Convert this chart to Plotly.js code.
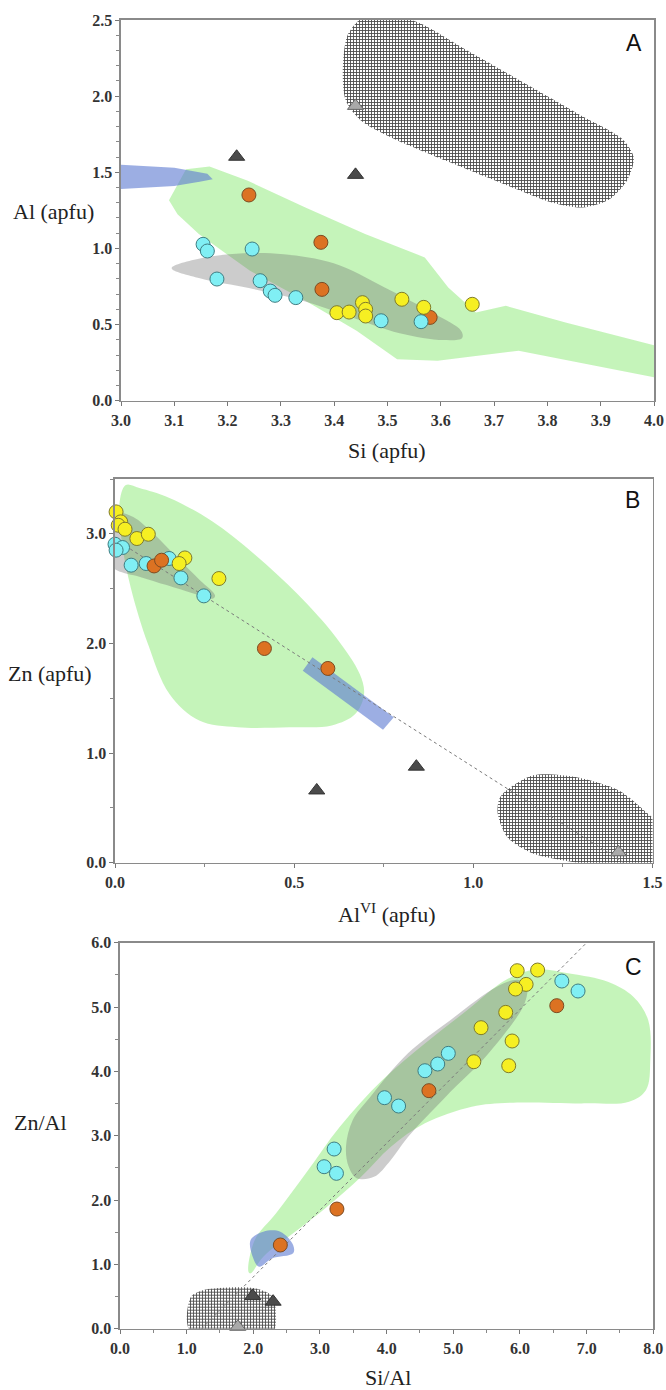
<!DOCTYPE html>
<html>
<head>
<meta charset="utf-8">
<script src="https://cdn.plot.ly/plotly-3.0.1.min.js"></script>
<style>html,body{margin:0;padding:0;background:#fff;}#chart{width:666px;height:1390px;}</style>
</head>
<body>
<div id="chart"></div>
<script>
// ---------------- Panel A : Al (apfu) vs Si (apfu) ----------------
const A_cyan_si   = [3.154, 3.162, 3.246, 3.180, 3.261, 3.280, 3.289, 3.328, 3.488, 3.563];
const A_cyan_al   = [1.027, 0.983, 0.996, 0.799, 0.788, 0.720, 0.692, 0.677, 0.525, 0.519];
const A_yellow_si = [3.405, 3.428, 3.453, 3.459, 3.459, 3.527, 3.568, 3.659];
const A_yellow_al = [0.578, 0.582, 0.644, 0.600, 0.556, 0.666, 0.613, 0.633];
const A_orange_si = [3.240, 3.375, 3.377, 3.580];
const A_orange_al = [1.351, 1.040, 0.731, 0.547];
const A_tri_si    = [3.217, 3.440];
const A_tri_al    = [1.602, 1.483];
const A_tri2_si   = [3.440];
const A_tri2_al   = [1.936];

const A_green_x = [3.090, 3.122, 3.166, 3.238, 3.346, 3.458, 3.570, 3.614, 3.666, 3.722, 3.834, 4.05, 4.05, 3.746, 3.594, 3.518, 3.442, 3.346, 3.242, 3.146, 3.106];
const A_green_y = [1.317, 1.520, 1.538, 1.444, 1.269, 1.094, 0.941, 0.744, 0.580, 0.623, 0.514, 0.320, 0.120, 0.328, 0.262, 0.273, 0.459, 0.656, 0.853, 1.094, 1.225];
const A_gray_x = [3.095, 3.150, 3.230, 3.305, 3.399, 3.492, 3.586, 3.638, 3.640, 3.605, 3.523, 3.430, 3.336, 3.242, 3.148, 3.095];
const A_gray_y = [0.870, 0.935, 0.968, 0.962, 0.902, 0.749, 0.574, 0.460, 0.412, 0.398, 0.443, 0.552, 0.661, 0.738, 0.804, 0.870];
const A_blue_x = [2.95, 3.10, 3.162, 3.172, 3.15, 3.10, 2.95];
const A_blue_y = [1.560, 1.530, 1.490, 1.455, 1.440, 1.410, 1.380];
const A_hatch_x = [3.425, 3.455, 3.500, 3.560, 3.640, 3.760, 3.870, 3.940, 3.962, 3.950, 3.915, 3.866, 3.810, 3.720, 3.610, 3.506, 3.450, 3.422, 3.416, 3.425];
const A_hatch_y = [2.400, 2.520, 2.540, 2.480, 2.320, 2.080, 1.860, 1.720, 1.597, 1.450, 1.320, 1.269, 1.300, 1.420, 1.575, 1.730, 1.840, 1.969, 2.150, 2.400];

// ---------------- Panel B : Zn (apfu) vs Al VI (apfu) ----------------
const B_yellow_al = [0.003, 0.016, 0.009, 0.028, 0.061, 0.093, 0.195, 0.179, 0.290];
const B_yellow_zn = [3.200, 3.109, 3.078, 3.042, 2.957, 2.996, 2.780, 2.729, 2.592];
const B_cyan_al   = [0.000, 0.021, 0.003, 0.045, 0.087, 0.151, 0.184, 0.248];
const B_cyan_zn   = [2.905, 2.875, 2.851, 2.714, 2.729, 2.775, 2.598, 2.434];
const B_orange_al = [0.109, 0.130, 0.417, 0.594];
const B_orange_zn = [2.707, 2.759, 1.954, 1.772];
const B_tri_al    = [0.563, 0.841];
const B_tri_zn    = [0.659, 0.876];
const B_tri2_al   = [1.405];
const B_tri2_zn   = [0.095];
const B_line_al   = [0.0, 1.42];
const B_line_zn   = [2.95, 0.0];

const B_green_x = [0.030, 0.068, 0.152, 0.271, 0.390, 0.510, 0.617, 0.683, 0.695, 0.671, 0.605, 0.486, 0.342, 0.235, 0.152, 0.092, 0.044, 0.020, 0.012, 0.030];
const B_green_y = [3.445, 3.418, 3.327, 3.115, 2.812, 2.448, 2.055, 1.721, 1.539, 1.358, 1.252, 1.236, 1.236, 1.297, 1.539, 1.994, 2.509, 2.903, 3.267, 3.445];
const B_gray_x = [0.014, 0.051, 0.107, 0.172, 0.237, 0.279, 0.274, 0.219, 0.144, 0.070, 0.005, -0.028, -0.023, -0.005, 0.014];
const B_gray_y = [3.185, 3.154, 3.003, 2.789, 2.577, 2.440, 2.410, 2.456, 2.532, 2.607, 2.668, 2.759, 2.881, 3.094, 3.185];
const B_blue_x = [0.551, 0.524, 0.748, 0.778];
const B_blue_y = [1.873, 1.752, 1.212, 1.327];
const B_hatch_x = [1.082, 1.166, 1.285, 1.405, 1.476, 1.52, 1.52, 1.38, 1.273, 1.166, 1.094, 1.068, 1.071, 1.082];
const B_hatch_y = [0.630, 0.797, 0.782, 0.661, 0.479, 0.327, -0.05, -0.05, 0.009, 0.085, 0.236, 0.448, 0.570, 0.630];

// ---------------- Panel C : Zn/Al vs Si/Al ----------------
const C_yellow_sial = [5.958, 6.265, 6.092, 5.933, 5.786, 5.416, 5.882, 5.308, 5.831];
const C_yellow_znal = [5.565, 5.575, 5.352, 5.280, 4.917, 4.679, 4.472, 4.150, 4.088];
const C_cyan_sial   = [6.628, 6.871, 4.925, 4.766, 4.574, 3.968, 4.179, 3.212, 3.062, 3.247];
const C_cyan_znal   = [5.404, 5.249, 4.280, 4.114, 4.010, 3.591, 3.461, 2.793, 2.518, 2.415];
const C_orange_sial = [6.552, 4.634, 3.254, 2.405];
const C_orange_znal = [5.021, 3.700, 1.860, 1.301];
const C_tri_sial    = [1.990, 2.297];
const C_tri_znal    = [0.509, 0.420];
const C_tri2_sial   = [1.767];
const C_tri2_znal   = [0.030];
const C_line_sial   = [1.225, 7.0];
const C_line_znal   = [0.0, 6.0];

const C_green_x = [1.927, 2.022, 2.341, 2.788, 3.298, 3.936, 4.574, 5.212, 5.786, 6.233, 6.744, 7.318, 7.700, 7.923, 7.955, 7.891, 7.636, 7.000, 5.850, 5.276, 4.574, 4.064, 3.617, 3.107, 2.597, 2.150, 1.959, 1.927];
const C_green_y = [0.886, 1.378, 1.793, 2.415, 3.140, 3.865, 4.435, 4.953, 5.420, 5.585, 5.523, 5.394, 5.161, 4.798, 4.176, 3.710, 3.528, 3.503, 3.513, 3.451, 3.192, 2.829, 2.363, 1.896, 1.482, 1.119, 0.860, 0.886];
const C_gray_x = [3.430, 3.550, 3.810, 4.060, 4.320, 4.890, 5.530, 6.070, 6.100, 5.980, 5.660, 4.960, 4.320, 3.745, 3.490, 3.390, 3.430];
const C_gray_y = [2.520, 2.340, 2.360, 2.620, 2.980, 3.610, 4.280, 5.060, 5.330, 5.420, 5.320, 4.800, 4.280, 3.590, 3.240, 2.830, 2.520];
const C_blue_x = [1.959, 2.150, 2.405, 2.597, 2.597, 2.278, 2.086, 1.990, 1.959];
const C_blue_y = [1.378, 1.508, 1.508, 1.301, 1.171, 1.093, 0.964, 1.119, 1.378];
const C_hatch_x = [1.002, 1.065, 1.257, 2.022, 2.290, 2.341, 2.300, 2.022, 1.065, 1.002];
const C_hatch_y = [0.135, 0.497, 0.601, 0.627, 0.497, 0.135, -0.05, -0.05, -0.05, 0.135];

// ---------------- styles ----------------
const COL = {
  cyan:   {fill: '#80eff4', line: '#3f7d82'},
  yellow: {fill: '#f6ef22', line: '#7f7b2c'},
  orange: {fill: '#dc7222', line: '#7c4b22'},
  tri:    {fill: '#4b4b4b', line: '#333333'},
  tri2:   {fill: '#a9a9a9', line: '#666666'},
  green:  'rgba(150,235,130,0.55)',
  gray:   'rgba(110,110,110,0.35)',
  blue:   'rgba(95,125,210,0.62)'
};

function region(x, y, color, xa, ya, smooth) {
  return {x: x, y: y, xaxis: xa, yaxis: ya, type: 'scatter', mode: 'lines', fill: 'toself',
          fillcolor: color, line: {width: 0, shape: smooth ? 'spline' : 'linear', smoothing: 1},
          hoverinfo: 'skip', showlegend: false};
}
function hatch(x, y, xa, ya) {
  return {x: x, y: y, xaxis: xa, yaxis: ya, type: 'scatter', mode: 'lines', fill: 'toself',
          fillcolor: 'rgba(255,255,255,0)', line: {width: 0, shape: 'spline', smoothing: 0.8},
          hoverinfo: 'skip', showlegend: false,
          fillpattern: {shape: '+', size: 3, solidity: 0.5, fgcolor: '#4a4a4a', bgcolor: 'rgba(255,255,255,0.85)', fillmode: 'replace'}};
}
function pts(x, y, c, sym, size, xa, ya) {
  return {x: x, y: y, xaxis: xa, yaxis: ya, type: 'scatter', mode: 'markers', cliponaxis: false,
          marker: {symbol: sym, size: size, color: c.fill, line: {color: c.line, width: 1}},
          hoverinfo: 'x+y', showlegend: false};
}
function dline(x, y, xa, ya) {
  return {x: x, y: y, xaxis: xa, yaxis: ya, type: 'scatter', mode: 'lines',
          line: {color: '#7a7a7a', width: 1, dash: 'dot'}, hoverinfo: 'skip', showlegend: false};
}

const traces = [
  region(A_green_x, A_green_y, COL.green, 'x', 'y', false),
  region(A_gray_x, A_gray_y, COL.gray, 'x', 'y', true),
  region(A_blue_x, A_blue_y, COL.blue, 'x', 'y', false),
  hatch(A_hatch_x, A_hatch_y, 'x', 'y'),
  pts(A_tri_si, A_tri_al, COL.tri, 'triangle-up', 14, 'x', 'y'),
  pts(A_tri2_si, A_tri2_al, COL.tri2, 'triangle-up', 14, 'x', 'y'),
  pts(A_orange_si, A_orange_al, COL.orange, 'circle', 14, 'x', 'y'),
  pts(A_cyan_si, A_cyan_al, COL.cyan, 'circle', 14, 'x', 'y'),
  pts(A_yellow_si, A_yellow_al, COL.yellow, 'circle', 14, 'x', 'y'),

  region(B_green_x, B_green_y, COL.green, 'x2', 'y2', true),
  region(B_gray_x, B_gray_y, COL.gray, 'x2', 'y2', true),
  region(B_blue_x, B_blue_y, COL.blue, 'x2', 'y2', false),
  hatch(B_hatch_x, B_hatch_y, 'x2', 'y2'),
  dline(B_line_al, B_line_zn, 'x2', 'y2'),
  pts(B_tri_al, B_tri_zn, COL.tri, 'triangle-up', 14, 'x2', 'y2'),
  pts(B_tri2_al, B_tri2_zn, COL.tri2, 'triangle-up', 14, 'x2', 'y2'),
  pts(B_cyan_al, B_cyan_zn, COL.cyan, 'circle', 14, 'x2', 'y2'),
  pts(B_yellow_al, B_yellow_zn, COL.yellow, 'circle', 14, 'x2', 'y2'),
  pts(B_orange_al, B_orange_zn, COL.orange, 'circle', 14, 'x2', 'y2'),

  region(C_green_x, C_green_y, COL.green, 'x3', 'y3', true),
  region(C_gray_x, C_gray_y, COL.gray, 'x3', 'y3', true),
  region(C_blue_x, C_blue_y, COL.blue, 'x3', 'y3', true),
  hatch(C_hatch_x, C_hatch_y, 'x3', 'y3'),
  dline(C_line_sial, C_line_znal, 'x3', 'y3'),
  pts(C_tri_sial, C_tri_znal, COL.tri, 'triangle-up', 14, 'x3', 'y3'),
  pts(C_tri2_sial, C_tri2_znal, COL.tri2, 'triangle-up', 14, 'x3', 'y3'),
  pts(C_cyan_sial, C_cyan_znal, COL.cyan, 'circle', 14, 'x3', 'y3'),
  pts(C_yellow_sial, C_yellow_znal, COL.yellow, 'circle', 14, 'x3', 'y3'),
  pts(C_orange_sial, C_orange_znal, COL.orange, 'circle', 14, 'x3', 'y3')
];

const W = 666, H = 1390;
const tickFont = {family: 'Liberation Serif', size: 16, color: '#333', weight: 'bold'};
function ax(domain, range, dtick, minor, anchor, tick0) {
  return {domain: domain, range: range, anchor: anchor, dtick: dtick, tick0: tick0,
          tickformat: '.1f', ticks: 'outside', ticklen: 4, tickwidth: 1, tickcolor: '#777',
          minor: {dtick: minor, tick0: tick0, ticks: 'outside', ticklen: 3, tickwidth: 1, tickcolor: '#888', showgrid: false},
          showline: true, linecolor: '#8a8a8a', linewidth: 1.6, mirror: true,
          showgrid: false, zeroline: false, tickfont: tickFont, fixedrange: true};
}
function xd(l, r) { return [l / W, r / W]; }
function yd(top, bottom) { return [1 - bottom / H, 1 - top / H]; }

const titleFont = {family: 'Liberation Serif', size: 22, color: '#222'};
const panelFont = {family: 'Liberation Sans', size: 23, color: '#111'};
function note(text, px, py, font) {
  return {text: text, xref: 'paper', yref: 'paper', x: px / W, y: 1 - py / H,
          xanchor: 'center', yanchor: 'middle', showarrow: false, font: font};
}

const layout = {
  width: W, height: H,
  margin: {l: 0, r: 0, t: 0, b: 0},
  paper_bgcolor: '#fff', plot_bgcolor: '#fff',
  showlegend: false,
  xaxis:  ax(xd(121, 654), [3, 4], 0.1, 0.1, 'y', 3),
  yaxis:  ax(yd(20, 400.7), [0, 2.5], 0.5, 0.1, 'x', 0),
  xaxis2: ax(xd(115, 652.5), [0, 1.5], 0.5, 0.25, 'y2', 0),
  yaxis2: ax(yd(479, 862.7), [0, 3.5], 1, 0.5, 'x2', 0),
  xaxis3: ax(xd(120, 653.3), [0, 8], 1, 0.5, 'y3', 0),
  yaxis3: ax(yd(942.7, 1328.7), [0, 6], 1, 0.5, 'x3', 0),
  annotations: [
    note('Si (apfu)', 387, 450, titleFont),
    note('Al (apfu)', 53, 211, titleFont),
    note('A', 634, 43, panelFont),
    note('Al<sup>VI</sup> (apfu)', 387, 913, titleFont),
    note('Zn (apfu)', 50, 673, titleFont),
    note('B', 632, 500, panelFont),
    note('Si/Al', 388, 1377, titleFont),
    note('Zn/Al', 40, 1122, titleFont),
    note('C', 633, 967, panelFont)
  ]
};

Plotly.newPlot('chart', traces, layout, {staticPlot: true, displayModeBar: false});
</script>
</body>
</html>
